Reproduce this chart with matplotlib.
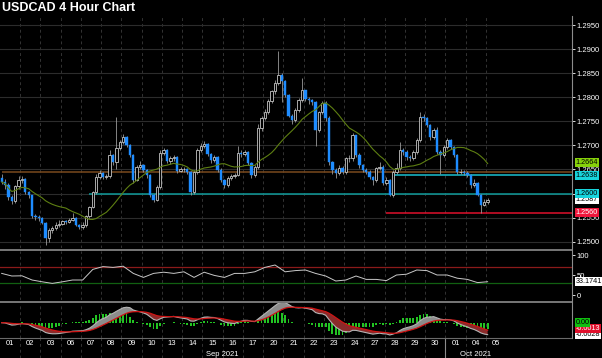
import matplotlib
matplotlib.use("Agg")
import matplotlib.pyplot as plt
import matplotlib.transforms as mtransforms
from matplotlib.lines import Line2D
import numpy as np
import pandas as pd

plt.rcParams["font.family"] = ["Liberation Sans", "DejaVu Sans"]

# ---- data -------------------------------------------------------------------
day_labels = ["01", "02", "03", "06", "07", "08", "09", "10", "13", "14", "15",
              "16", "17", "20", "21", "22", "23", "24", "27", "28", "29", "30",
              "01", "04", "05"]
month_labels = ["Sep 2021", "Oct 2021"]
month_first_day = [0, 22]
candles_per_day = 6

first_open = 1.2632
closes = [
    1.2624, 1.2617, 1.2592, 1.2584, 1.2615, 1.2628,  # 01
    1.2630, 1.2604, 1.2596, 1.2553, 1.2552, 1.2549,  # 02
    1.2539, 1.2507, 1.2524, 1.2528, 1.2534, 1.2537,  # 03
    1.2543, 1.2541, 1.2545, 1.2549, 1.2534, 1.2530,  # 06
    1.2535, 1.2553, 1.2572, 1.2603, 1.2634, 1.2642,  # 07
    1.2634, 1.2636, 1.2680, 1.2665, 1.2694, 1.2706,  # 08
    1.2717, 1.2700, 1.2680, 1.2628, 1.2655, 1.2659,  # 09
    1.2649, 1.2638, 1.2597, 1.2586, 1.2613, 1.2684,  # 10
    1.2690, 1.2667, 1.2673, 1.2675, 1.2646, 1.2651,  # 13
    1.2651, 1.2644, 1.2603, 1.2644, 1.2690, 1.2698,  # 14
    1.2702, 1.2682, 1.2669, 1.2675, 1.2649, 1.2628,  # 15
    1.2617, 1.2632, 1.2636, 1.2638, 1.2684, 1.2682,  # 16
    1.2686, 1.2663, 1.2638, 1.2655, 1.2736, 1.2756,  # 17
    1.2770, 1.2792, 1.2812, 1.2830, 1.2846, 1.2833,  # 20
    1.2804, 1.2762, 1.2752, 1.2773, 1.2794, 1.2814,  # 21
    1.2796, 1.2794, 1.2790, 1.2731, 1.2769, 1.2788,  # 22
    1.2756, 1.2665, 1.2649, 1.2642, 1.2653, 1.2644,  # 23
    1.2673, 1.2673, 1.2721, 1.2680, 1.2659, 1.2649,  # 24
    1.2644, 1.2634, 1.2628, 1.2653, 1.2655, 1.2621,  # 27
    1.2628, 1.2597, 1.2644, 1.2653, 1.2690, 1.2686,  # 28
    1.2675, 1.2673, 1.2686, 1.2711, 1.2758, 1.2756,  # 29
    1.2742, 1.2717, 1.2731, 1.2686, 1.2680, 1.2696,  # 30
    1.2711, 1.2696, 1.2680, 1.2644, 1.2645, 1.2643,  # 01 Oct
    1.2638, 1.2617, 1.2621, 1.2597, 1.2576, 1.2582,  # 04
    1.2587,                                          # 05
]
highs = [
    1.2640, 1.2630, 1.2622, 1.2598, 1.2618, 1.2636,
    1.2636, 1.2632, 1.2606, 1.2598, 1.2558, 1.2556,
    1.2551, 1.2540, 1.2528, 1.2532, 1.2540, 1.2545,
    1.2546, 1.2546, 1.2550, 1.2559, 1.2551, 1.2536,
    1.2541, 1.2556, 1.2575, 1.2606, 1.2640, 1.2648,
    1.2644, 1.2640, 1.2690, 1.2682, 1.2758, 1.2712,
    1.2723, 1.2720, 1.2702, 1.2682, 1.2660, 1.2668,
    1.2662, 1.2650, 1.2640, 1.2600, 1.2618, 1.2690,
    1.2694, 1.2692, 1.2677, 1.2680, 1.2678, 1.2656,
    1.2656, 1.2654, 1.2646, 1.2648, 1.2694, 1.2705,
    1.2710, 1.2704, 1.2684, 1.2680, 1.2678, 1.2652,
    1.2630, 1.2636, 1.2640, 1.2642, 1.2699, 1.2690,
    1.2690, 1.2688, 1.2665, 1.2660, 1.2745, 1.2762,
    1.2775, 1.2796, 1.2816, 1.2835, 1.2896, 1.2850,
    1.2835, 1.2806, 1.2766, 1.2778, 1.2798, 1.2840,
    1.2816, 1.2800, 1.2796, 1.2792, 1.2772, 1.2792,
    1.2792, 1.2760, 1.2668, 1.2652, 1.2660, 1.2658,
    1.2676, 1.2680, 1.2726, 1.2722, 1.2684, 1.2662,
    1.2652, 1.2648, 1.2636, 1.2656, 1.2666, 1.2660,
    1.2634, 1.2630, 1.2648, 1.2664, 1.2706, 1.2694,
    1.2690, 1.2680, 1.2690, 1.2715, 1.2770, 1.2766,
    1.2758, 1.2745, 1.2736, 1.2738, 1.2690, 1.2700,
    1.2715, 1.2714, 1.2698, 1.2682, 1.2650, 1.2648,
    1.2646, 1.2640, 1.2630, 1.2624, 1.2600, 1.2588,
    1.2590,
]
lows = [
    1.2620, 1.2610, 1.2586, 1.2578, 1.2580, 1.2610,
    1.2622, 1.2600, 1.2590, 1.2550, 1.2546, 1.2543,
    1.2536, 1.2494, 1.2500, 1.2518, 1.2524, 1.2530,
    1.2535, 1.2537, 1.2539, 1.2543, 1.2532, 1.2527,
    1.2526, 1.2530, 1.2550, 1.2570, 1.2600, 1.2630,
    1.2630, 1.2630, 1.2632, 1.2660, 1.2650, 1.2690,
    1.2702, 1.2696, 1.2676, 1.2622, 1.2626, 1.2650,
    1.2645, 1.2632, 1.2592, 1.2582, 1.2584, 1.2610,
    1.2680, 1.2664, 1.2662, 1.2668, 1.2642, 1.2644,
    1.2645, 1.2640, 1.2598, 1.2599, 1.2640, 1.2686,
    1.2694, 1.2678, 1.2664, 1.2666, 1.2644, 1.2624,
    1.2612, 1.2614, 1.2628, 1.2632, 1.2636, 1.2676,
    1.2678, 1.2660, 1.2632, 1.2634, 1.2650, 1.2730,
    1.2752, 1.2766, 1.2788, 1.2806, 1.2826, 1.2790,
    1.2800, 1.2758, 1.2745, 1.2748, 1.2770, 1.2790,
    1.2792, 1.2786, 1.2784, 1.2698, 1.2728, 1.2765,
    1.2750, 1.2660, 1.2640, 1.2632, 1.2638, 1.2640,
    1.2640, 1.2666, 1.2668, 1.2676, 1.2654, 1.2644,
    1.2640, 1.2630, 1.2618, 1.2624, 1.2648, 1.2618,
    1.2618, 1.2594, 1.2592, 1.2640, 1.2648, 1.2680,
    1.2670, 1.2668, 1.2670, 1.2682, 1.2708, 1.2750,
    1.2738, 1.2712, 1.2714, 1.2682, 1.2640, 1.2676,
    1.2692, 1.2692, 1.2676, 1.2640, 1.2640, 1.2638,
    1.2634, 1.2612, 1.2614, 1.2594, 1.2559, 1.2574,
    1.2578,
]

# RSI sampled every 3rd candle
rsi_step = 3
rsi_values = [54, 47.5, 48, 37.5, 33, 29, 33, 37.5, 37.5, 64, 71, 69, 72, 54,
              44, 54, 57, 54, 58, 44, 57, 49, 44, 54, 54, 58, 69, 75, 58, 61,
              62.5, 54, 47.5, 35, 37.5, 47.5, 39, 39, 36, 50, 52, 62.5, 61, 50,
              50, 42, 39, 31, 33.2]

# horizontal levels drawn on the price panel: (price, first candle, colour)
level_lines = [
    (1.2645, 0, "#7a4a1e"),
    (1.2638, 116, "#19c0d0"),
    (1.2600, 26, "#0f9a9a"),
    (1.2560, 114, "#e0102c"),
]
# value boxes on the right axis: (price, text, box colour, text colour)
price_boxes = [
    (1.2587, "1.2587", "white", "black"),
    (1.2664, "1.2664", "#86d10a", "black"),
    (1.2638, "1.2638", "#18d4dc", "black"),
    (1.2600, "1.2600", "#18d4dc", "black"),
    (1.2560, "1.2560", "#f0163c", "white"),
]
rsi_box = (33.1741, "33.1741")
macd_boxes = [
    (-0.0028, "-0.0028", "white", "black"),
    (-0.0013, "-0.0013", "#e0102c", "white"),
    (0.0000, "0.00", "#10c010", "black"),
]

# ---- derived series ---------------------------------------------------------
closes = np.array(closes)
highs = np.array(highs)
lows = np.array(lows)
opens = np.concatenate([[first_open], closes[:-1]])
x = np.arange(len(closes))

close_s = pd.Series(closes)
ma = close_s.rolling(20, min_periods=1).mean()
macd = close_s.ewm(span=12, adjust=False).mean() - close_s.ewm(span=26, adjust=False).mean()
signal = macd.ewm(span=9, adjust=False).mean()
hist = macd - signal

# ---- layout -----------------------------------------------------------------
W, H = 602, 358
RIGHT = 572
fig = plt.figure(figsize=(W / 100, H / 100), dpi=100, facecolor="black")


def add_panel(top, bottom):
    a = fig.add_axes([0, 1 - bottom / H, RIGHT / W, (bottom - top) / H])
    a.set_facecolor("black")
    for s in a.spines.values():
        s.set_visible(False)
    a.set_xlim(-0.5, 169.0)
    a.set_xticks([])
    a.yaxis.tick_right()
    a.tick_params(axis="y", colors="white", labelsize=5.5, length=2,
                  width=0.6, pad=1.5)
    for k in range(1, len(day_labels)):
        a.axvline(k * candles_per_day - 0.5, color="#333333", lw=0.7,
                  ls=(0, (3, 3)), zorder=0)
    return a


def value_box(a, val, txt, bg, fg):
    tr = mtransforms.blended_transform_factory(a.transAxes, a.transData)
    a.text(1.006, val, txt, transform=tr, fontsize=5.2, color=fg,
           va="center", ha="left", zorder=10, clip_on=False,
           bbox=dict(boxstyle="square,pad=0.12", fc=bg, ec="none"))


ax = add_panel(16, 248)
ax_rsi = add_panel(251, 300)
ax_macd = add_panel(303, 338)
ax_date = add_panel(338, 358)

# price panel
ax.set_ylim(1.24869, 1.29687)
pticks = np.arange(1.2500, 1.2951, 0.005)
ax.set_yticks(pticks)
# the 1.2600 tick label sits fully under its own value box
ax.set_yticklabels(["" if abs(v - 1.26) < 1e-6 else f"{v:.4f}" for v in pticks])
for v in pticks:
    ax.axhline(v, color="#2c2c2c", lw=0.8, zorder=0)

up = closes >= opens
ax.vlines(x, lows, highs, color="#9a9a9a", lw=0.6, zorder=2)
body_bottom = np.minimum(opens, closes)
body_h = np.maximum(np.abs(closes - opens), 0.00004)
ax.bar(x[up], body_h[up], bottom=body_bottom[up], width=0.7, color="black",
       edgecolor="#c4c4c4", linewidth=0.6, zorder=3)
ax.bar(x[~up], body_h[~up], bottom=body_bottom[~up], width=0.7,
       color="#1e8cff", edgecolor="#1e8cff", linewidth=0.3, zorder=3)
ax.plot(x, ma, color="#5e7f12", lw=0.8, zorder=4)

for level, start, col in level_lines:
    ax.hlines(level, start, 169.0, color=col, lw=1.1, zorder=1)

for val, txt, bg, fg in price_boxes:
    value_box(ax, val, txt, bg, fg)

# RSI panel
ax_rsi.set_ylim(-12.5, 110)
ax_rsi.set_yticks([0, 50, 100])
ax_rsi.axhline(70, color="#8b1a1a", lw=0.9, zorder=1)
ax_rsi.axhline(30, color="#116011", lw=0.9, zorder=1)
ax_rsi.plot(np.arange(len(rsi_values)) * rsi_step, rsi_values,
            color="#c8c8c8", lw=0.7, zorder=3)
value_box(ax_rsi, rsi_box[0], rsi_box[1], "white", "black")

# MACD panel; histogram on its own (tighter) scale like the original
ax_macd.set_ylim(-0.00349, 0.00449)
ax_macd.set_yticks([])
ax_hist = fig.add_axes(ax_macd.get_position(), sharex=ax_macd)
ax_hist.axis("off")
ax_hist.set_ylim(-0.0026, 0.0033)
ax_hist.bar(x, hist, width=0.55, color="#22c422", zorder=2)
ax_macd.set_zorder(ax_hist.get_zorder() + 1)
ax_macd.patch.set_visible(False)

ax_macd.fill_between(x, macd, signal, where=macd >= signal, interpolate=True,
                     color="#8c8c8c", lw=0, zorder=3)
ax_macd.fill_between(x, macd, signal, where=macd < signal, interpolate=True,
                     color="#8a2a2a", lw=0, zorder=3)
ax_macd.plot(x, macd, color="#b4b4b4", lw=0.8, zorder=4)
ax_macd.plot(x, signal, color="#d01414", lw=0.9, zorder=4)
for val, txt, bg, fg in macd_boxes:
    value_box(ax_macd, val, txt, bg, fg)

# date strip
ax_date.set_ylim(0, 1)
ax_date.set_yticks([])
for k, lab in enumerate(day_labels):
    ax_date.text(k * candles_per_day + 2.5, 0.72, lab, color="white",
                 fontsize=5.5, ha="center", va="center")
month_ends = month_first_day[1:] + [len(day_labels)]
for lab, d0, d1 in zip(month_labels, month_first_day, month_ends):
    ax_date.text((d0 + d1) * candles_per_day / 2 - 0.5, 0.2, lab,
                 color="white", fontsize=5.5, ha="center", va="center")
ax_date.axvline(month_first_day[1] * candles_per_day - 0.5, color="#8c8c8c",
                lw=0.8)

# panel separators and right axis line
for ypx in (250, 301.5):
    fig.add_artist(Line2D([0, RIGHT / W], [1 - ypx / H] * 2,
                          transform=fig.transFigure, color="#8c8c8c", lw=1.2))
fig.add_artist(Line2D([0, RIGHT / W], [1 - 338 / H] * 2,
                      transform=fig.transFigure, color="#6a6a6a", lw=0.8))
fig.add_artist(Line2D([RIGHT / W] * 2, [1 - 16 / H, 1 - 338 / H],
                      transform=fig.transFigure, color="#8c8c8c", lw=0.8))

fig.text(2 / W, 1 - 8 / H, "USDCAD 4 Hour Chart", color="white", fontsize=9,
         fontweight="bold", va="center", ha="left")

fig.savefig("out.png", dpi=100, facecolor="black")
